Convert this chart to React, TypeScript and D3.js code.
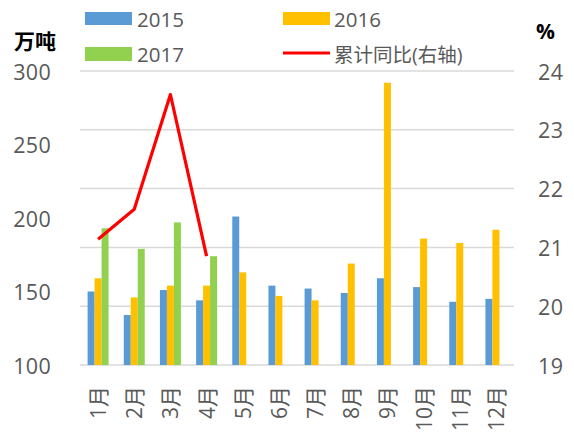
import { scaleBand, scaleLinear, line } from "d3";

const months = ["1月", "2月", "3月", "4月", "5月", "6月", "7月", "8月", "9月", "10月", "11月", "12月"];
const v2015 = [150, 134, 151, 144, 201, 154, 152, 149, 159, 153, 143, 145];
const v2016 = [159, 146, 154, 154, 163, 147, 144, 169, 292, 186, 183, 192];
const v2017 = [193, 179, 197, 174];
const cumYoY = [21.14, 21.65, 23.6, 20.85];
const leftTicks = [100, 150, 200, 250, 300];
const rightTicks = [19, 20, 21, 22, 23, 24];

const series = [
  { key: "2015", values: v2015, color: "#5B9BD5" },
  { key: "2016", values: v2016, color: "#FFC000" },
  { key: "2017", values: v2017, color: "#92D050" },
];

const font = "'Open Sans', 'Noto Sans CJK SC', sans-serif";
const grey = "#595959";

export default function App() {
  const left = 80;
  const right = 514;
  const top = 71;
  const bottom = 365;

  const x = scaleBand().domain(months).range([left, right]).paddingInner(0.42).paddingOuter(0.21);
  const inner = scaleBand().domain(series.map((s) => s.key)).range([0, x.bandwidth()]);
  const yL = scaleLinear().domain([100, 300]).range([bottom, top]);
  const yR = scaleLinear().domain([19, 24]).range([bottom, top]);

  const path = line<number>()
    .x((_, i) => (x(months[i]) as number) + x.bandwidth() / 2)
    .y((d) => yR(d))(cumYoY);

  return (
    <svg width={574} height={434} style={{ position: "absolute", left: 0, top: 0 }} fontFamily={font}>
      <rect width={574} height={434} fill="#fff" />
      {rightTicks.map((t) => (
        <line key={t} x1={left} x2={right} y1={yR(t)} y2={yR(t)} stroke="#d9d9d9" strokeWidth={1.5} />
      ))}
      {series.map((s) =>
        s.values.map((v, i) => (
          <rect
            key={s.key + i}
            x={(x(months[i]) as number) + (inner(s.key) as number)}
            y={yL(v)}
            width={inner.bandwidth()}
            height={bottom - yL(v)}
            fill={s.color}
          />
        ))
      )}
      <path d={path ?? ""} fill="none" stroke="#FF0000" strokeWidth={3.2} strokeLinejoin="round" />
      {leftTicks.map((t) => (
        <text key={t} x={51} y={yL(t)} textAnchor="end" dominantBaseline="central" fontSize={21.5} letterSpacing={0.3} fill={grey}>
          {t}
        </text>
      ))}
      {rightTicks.map((t) => (
        <text key={t} x={538} y={yR(t)} textAnchor="start" dominantBaseline="central" fontSize={21.5} letterSpacing={0.5} fill={grey}>
          {t}
        </text>
      ))}
      {months.map((m) => {
        const cx = (x(m) as number) + x.bandwidth() / 2;
        return (
          <text
            key={m}
            transform={`translate(${cx},386) rotate(-90)`}
            textAnchor="end"
            dominantBaseline="central"
            fontSize={21}
            fill={grey}
          >
            {m}
          </text>
        );
      })}
      <text x={14} y={41} fontSize={21} fontWeight="bold" fill="#000" dominantBaseline="central">万吨</text>
      <text x={536} y={31} fontSize={21} fontWeight="bold" fill="#000" dominantBaseline="central">%</text>
      {/* legend */}
      <rect x={85} y={12} width={47} height={13} fill="#5B9BD5" />
      <text x={137} y={19} fontSize={20.5} fill={grey} dominantBaseline="central">2015</text>
      <rect x={283} y={12} width={47} height={13} fill="#FFC000" />
      <text x={334} y={19} fontSize={20.5} fill={grey} dominantBaseline="central">2016</text>
      <rect x={85} y={47} width={47} height={14} fill="#92D050" />
      <text x={137} y={54} fontSize={20.5} fill={grey} dominantBaseline="central">2017</text>
      <line x1={283} x2={330} y1={53} y2={53} stroke="#FF0000" strokeWidth={3} />
      <text x={334} y={54} fontSize={19.5} fill={grey} dominantBaseline="central">累计同比(右轴)</text>
    </svg>
  );
}
